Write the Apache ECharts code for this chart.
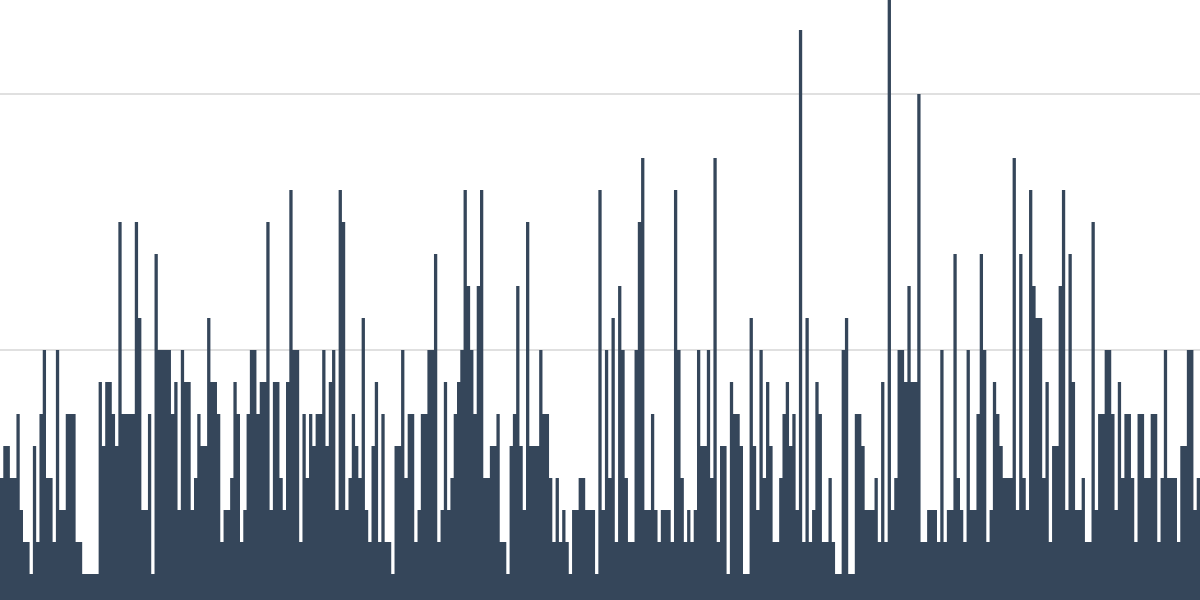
<!DOCTYPE html>
<html>
<head>
<meta charset="utf-8">
<script src="https://cdn.jsdelivr.net/npm/echarts@6/dist/echarts.min.js"></script>
<style>
html,body{margin:0;padding:0;background:#fff;width:1200px;height:600px;overflow:hidden;position:relative;}
#chart{position:absolute;left:0;top:-34px;width:1200px;height:640px;}
</style>
</head>
<body>
<div id="chart"></div>
<script>
// Daily counts (one bar per day)
const counts = [
4,5,5,4,4,6,3,2,2,1,
5,2,6,8,4,4,2,8,3,3,
6,6,6,2,2,1,1,1,1,1,
7,5,7,7,6,5,12,6,6,6,
6,12,9,3,3,6,1,11,8,8,
8,8,6,7,3,8,7,7,3,4,
6,5,5,9,7,7,6,2,3,3,
4,7,6,2,3,6,8,8,6,7,
7,12,3,7,7,4,3,7,13,8,
8,2,6,4,6,5,6,6,8,5,
7,8,3,13,12,3,4,6,5,4,
9,3,2,5,7,2,6,2,2,1,
5,5,8,4,6,6,2,3,6,6,
8,8,11,2,3,7,3,4,6,7,
8,13,10,8,6,10,13,4,4,5,
5,6,2,2,1,5,6,10,5,3,
12,5,5,5,8,6,6,4,2,4,
2,3,2,1,3,3,4,4,3,3,
3,1,13,3,8,4,9,2,10,8,
4,2,2,8,12,14,3,3,6,3,
2,3,3,3,2,13,8,4,2,3,
2,3,8,5,5,8,4,14,2,5,
5,1,7,6,6,5,1,1,9,5,
3,8,4,7,5,2,2,4,6,7,
5,6,3,18,2,9,2,3,7,6,
2,2,4,2,1,1,8,9,1,1,
6,6,5,3,3,3,4,2,7,2,
19,3,4,8,8,7,10,7,7,16,
2,2,3,3,3,2,8,2,3,3,
11,4,3,2,8,3,3,6,11,8,
2,3,7,6,5,4,4,4,14,3,
11,4,3,13,10,9,9,4,7,2,
5,5,10,13,3,11,7,3,3,4,
2,2,12,3,6,6,8,8,6,3,
7,4,6,6,4,2,6,6,4,4,
6,6,2,4,8,4,4,4,2,5,
5,8,8,3,4
];
// Category labels: days of the year
const days = [];
for (let i = 0; i < counts.length; i++) days.push('Day ' + (i + 1));
const yTicks = [0, 8, 16];
const yMax = 20;
const barColor = '#35465a';

const chart = echarts.init(document.getElementById('chart'), null, {renderer: 'canvas'});
chart.setOption({
  animation: false,
  backgroundColor: '#ffffff',
  grid: {left: 0, right: 0, top: 0, bottom: 0, containLabel: false},
  xAxis: {
    type: 'category',
    data: days,
    boundaryGap: true,
    axisLine: {show: false},
    axisTick: {show: false},
    axisLabel: {show: false},
    splitLine: {show: false}
  },
  yAxis: {
    type: 'value',
    min: yTicks[0],
    max: yMax,
    interval: yTicks[1] - yTicks[0],
    axisLine: {show: false},
    axisTick: {show: false},
    axisLabel: {show: false},
    splitLine: {show: true, lineStyle: {color: '#e0e0e0', width: 2}}
  },
  series: [{
    type: 'bar',
    data: counts,
    large: true,
    largeThreshold: 100,
    barCategoryGap: '0%',
    itemStyle: {color: barColor}
  }]
});
</script>
</body>
</html>
